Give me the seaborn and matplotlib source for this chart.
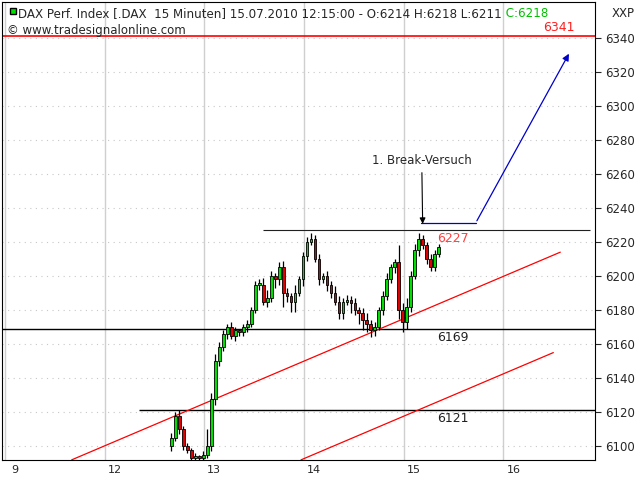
import numpy as np
import matplotlib
matplotlib.use("Agg")
import matplotlib.pyplot as plt
import seaborn as sns

# 15-minute closes, consecutive bars starting on the 12th afternoon
closes = [6105, 6118, 6110, 6100, 6098, 6093, 6094, 6093, 6095, 6100,
          6128, 6150, 6158, 6166, 6170, 6165, 6168, 6167, 6170, 6172,
          6180, 6195, 6195, 6185, 6187, 6200, 6198, 6205, 6190, 6188,
          6185, 6190, 6198, 6212, 6220, 6222, 6210, 6198, 6200, 6195,
          6190, 6185, 6178, 6185, 6186, 6184, 6180, 6178, 6174, 6172,
          6168, 6170, 6180, 6188, 6198, 6205, 6208, 6180, 6173, 6182,
          6200, 6215, 6222, 6218, 6210, 6205, 6213, 6217]
wick_up = [3, 2, 3, 2, 2, 1, 2, 1, 2, 10, 3, 4, 3, 2, 2, 3, 2, 1, 2, 2,
           2, 2, 3, 4, 5, 3, 2, 3, 4, 3, 2, 5, 2, 2, 3, 3, 2, 3, 2, 3,
           2, 4, 3, 2, 3, 2, 3, 2, 3, 4, 2, 3, 2, 3, 4, 2, 2, 10, 4, 5,
           3, 4, 3, 2, 2, 3, 2, 2]
wick_dn = [3, 2, 3, 2, 2, 2, 2, 1, 2, 2, 3, 4, 3, 2, 3, 2, 3, 2, 2, 3,
           2, 2, 3, 2, 3, 2, 5, 3, 8, 3, 6, 6, 2, 4, 3, 2, 2, 3, 2, 4,
           3, 2, 3, 3, 2, 6, 3, 6, 6, 5, 4, 3, 2, 3, 2, 2, 3, 5, 6, 4,
           3, 2, 3, 2, 3, 2, 2, 2]
opens = [6100] + closes[:-1]

day_labels = ["9", "12", "13", "14", "15", "16"]
price_ticks = list(range(6100, 6341, 20))

sns.set_style("white")
plt.rcParams["font.family"] = ["DejaVu Sans"]

fig = plt.figure(figsize=(6.4, 4.8), dpi=100)
ax = fig.add_axes([0.003, 0.042, 0.927, 0.954])

x0 = (170 - 3) / 100.0
step = 0.04
xs = x0 + step * np.arange(len(closes))
for x, o, c, u, d in zip(xs, opens, closes, wick_up, wick_dn):
    hi = max(o, c) + u
    lo = min(o, c) - d
    ax.vlines(x, lo, hi, color="black", lw=0.9, zorder=3)
    col = "#00e000" if c >= o else "#e00000"
    ax.bar(x, max(abs(c - o), 0.6), bottom=min(o, c), width=0.028,
           color=col, edgecolor="black", lw=0.6, zorder=4)

# grid
for i in range(len(day_labels)):
    ax.axvline(i, color="#cfcfcf", lw=1, zorder=0)
for p in price_ticks:
    ax.axhline(p, color="#c8c8c8", lw=0.8, ls=(0, (1, 4)), zorder=0)

# horizontal levels
ax.axhline(6341, color="#ff0000", lw=1.2, zorder=2)
ax.hlines(6169, -0.1, 6, color="black", lw=1, zorder=2)
ax.hlines(6121, 1.34, 6, color="black", lw=1, zorder=2)
ax.hlines(6227, 2.59, 5.87, color="#202020", lw=0.8, zorder=2)
ax.text(5.4, 6344, "6341", color="#ff2020", fontsize=9)
ax.text(4.33, 6220, "6227", color="#ff4040", fontsize=9)
ax.text(4.33, 6162, "6169", color="#202020", fontsize=9)
ax.text(4.33, 6114, "6121", color="#202020", fontsize=9)

# trend channel
ax.plot([0.67, 5.57], [6092, 6214], color="#ff0000", lw=0.9, zorder=2)
ax.plot([2.97, 5.50], [6092, 6155], color="#ff0000", lw=0.9, zorder=2)

# projection
ax.plot([4.17, 4.72], [6231, 6231], color="#0000cc", lw=0.9, zorder=2)
ax.annotate("", xy=(5.67, 6332), xytext=(4.72, 6231),
            arrowprops=dict(arrowstyle="-|>", color="#0000cc", lw=0.9))
ax.annotate("1. Break-Versuch", xy=(4.19, 6229), xytext=(3.68, 6266),
            fontsize=8.5, arrowprops=dict(arrowstyle="-|>", color="black", lw=0.8))

# header
head = ax.text(0.13, 6352, "DAX Perf. Index [.DAX  15 Minuten] 15.07.2010 12:15:00 - O:6214 H:6218 L:6211",
               fontsize=8.6)
ax.annotate(" C:6218", xy=(1, 0), xycoords=head, fontsize=8.6, color="#00c000",
            va="bottom")
ax.text(0.02, 6342, "© www.tradesignalonline.com", fontsize=8.5)
ax.plot([0.08], [6355.5], marker="s", color="#00e000", mec="black", ms=4)

ax.set_xlim(-0.03, 5.92)
ax.set_ylim(6092, 6361)
ax.set_xticks(np.arange(len(day_labels)) + 0.1)
ax.set_xticklabels(day_labels, fontsize=8)
ax.yaxis.tick_right()
ax.set_yticks(price_ticks)
ax.set_yticklabels(price_ticks, fontsize=8.5)
ax.tick_params(axis="y", length=4, direction="out", right=True)
ax.tick_params(axis="x", length=3, direction="out", pad=1)
fig.text(0.955, 0.985, "XXP", fontsize=8.5, va="top")
for s in ax.spines.values():
    s.set_color("black")
    s.set_linewidth(0.8)

fig.savefig("out.png", dpi=100)
